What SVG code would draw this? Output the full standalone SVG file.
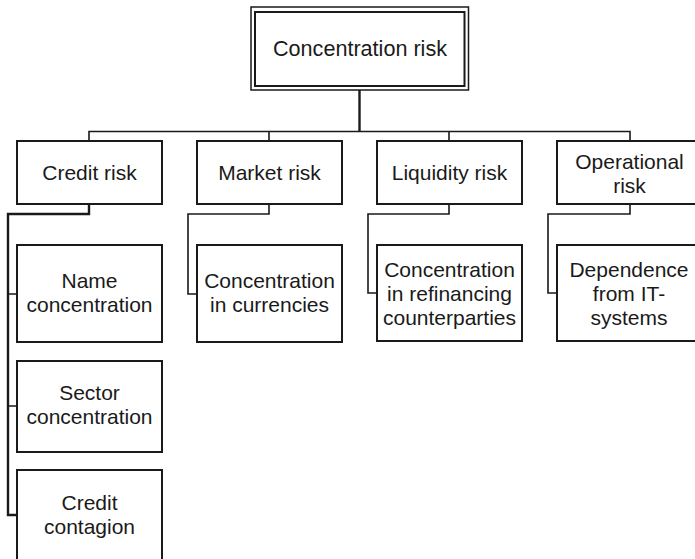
<svg xmlns="http://www.w3.org/2000/svg" width="695" height="559" viewBox="0 0 695 559">
<style>
.box{fill:#fff;stroke:#1a1a1a;stroke-width:2}
.outer{fill:#fff;stroke:#1a1a1a;stroke-width:1.5}
.lbl{font-family:"Liberation Sans",Arial,sans-serif;font-size:21px;fill:#1a1a1a;text-anchor:middle}
.big{font-size:21.6px}
.c{fill:none;stroke:#1a1a1a;stroke-width:1.6}
.ct{fill:none;stroke:#1a1a1a;stroke-width:2.4}
</style>
<rect width="695" height="559" fill="#fff"/>
<g id="connectors">
<path class="ct" d="M359.5 90V131.5"/>
<path class="c" d="M89 141V131.5H630V141M269 131.5V141M449 131.5V141"/>
<path class="ct" d="M89 204V214H8V515H17"/>
<path class="c" d="M8 294H17M8 406H17"/>
<path class="c" d="M269 204V214H188V294H197"/>
<path class="c" d="M449 204V214H368V293H377"/>
<path class="c" d="M630 204V214H548V293H557"/>
</g>
<g id="root">
<rect class="outer" x="251" y="7" width="217.5" height="83"/>
<rect class="box" x="255" y="12" width="209.5" height="74"/>
<text class="lbl big" x="360" y="56">Concentration risk</text>
</g>
<g id="credit">
<rect class="box" x="17" y="141" width="145" height="63"/>
<text class="lbl" x="89.5" y="180">Credit risk</text>
</g>
<g id="market">
<rect class="box" x="197" y="141" width="145" height="63"/>
<text class="lbl" x="269.5" y="180">Market risk</text>
</g>
<g id="liquidity">
<rect class="box" x="377" y="141" width="145" height="63"/>
<text class="lbl" x="449.5" y="180">Liquidity risk</text>
</g>
<g id="operational">
<rect class="box" x="557" y="141" width="145" height="63"/>
<text class="lbl" x="629.5" y="169">Operational</text>
<text class="lbl" x="629.5" y="193">risk</text>
</g>
<g id="name">
<rect class="box" x="17" y="245" width="145" height="97"/>
<text class="lbl" x="89.5" y="288">Name</text>
<text class="lbl" x="89.5" y="312">concentration</text>
</g>
<g id="sector">
<rect class="box" x="17" y="361" width="145" height="91"/>
<text class="lbl" x="89.5" y="400">Sector</text>
<text class="lbl" x="89.5" y="424">concentration</text>
</g>
<g id="contagion">
<rect class="box" x="17" y="470" width="145" height="92"/>
<text class="lbl" x="89.5" y="510">Credit</text>
<text class="lbl" x="89.5" y="534">contagion</text>
</g>
<g id="currencies">
<rect class="box" x="197" y="245" width="145" height="97"/>
<text class="lbl" x="269.5" y="288">Concentration</text>
<text class="lbl" x="269.5" y="312">in currencies</text>
</g>
<g id="refinancing">
<rect class="box" x="377" y="245" width="145" height="96"/>
<text class="lbl" x="449.5" y="277">Concentration</text>
<text class="lbl" x="449.5" y="301">in refinancing</text>
<text class="lbl" x="449.5" y="325">counterparties</text>
</g>
<g id="dependence">
<rect class="box" x="557" y="245" width="145" height="96"/>
<text class="lbl" x="629" y="277">Dependence</text>
<text class="lbl" x="629" y="301">from IT-</text>
<text class="lbl" x="629" y="325">systems</text>
</g>
</svg>
